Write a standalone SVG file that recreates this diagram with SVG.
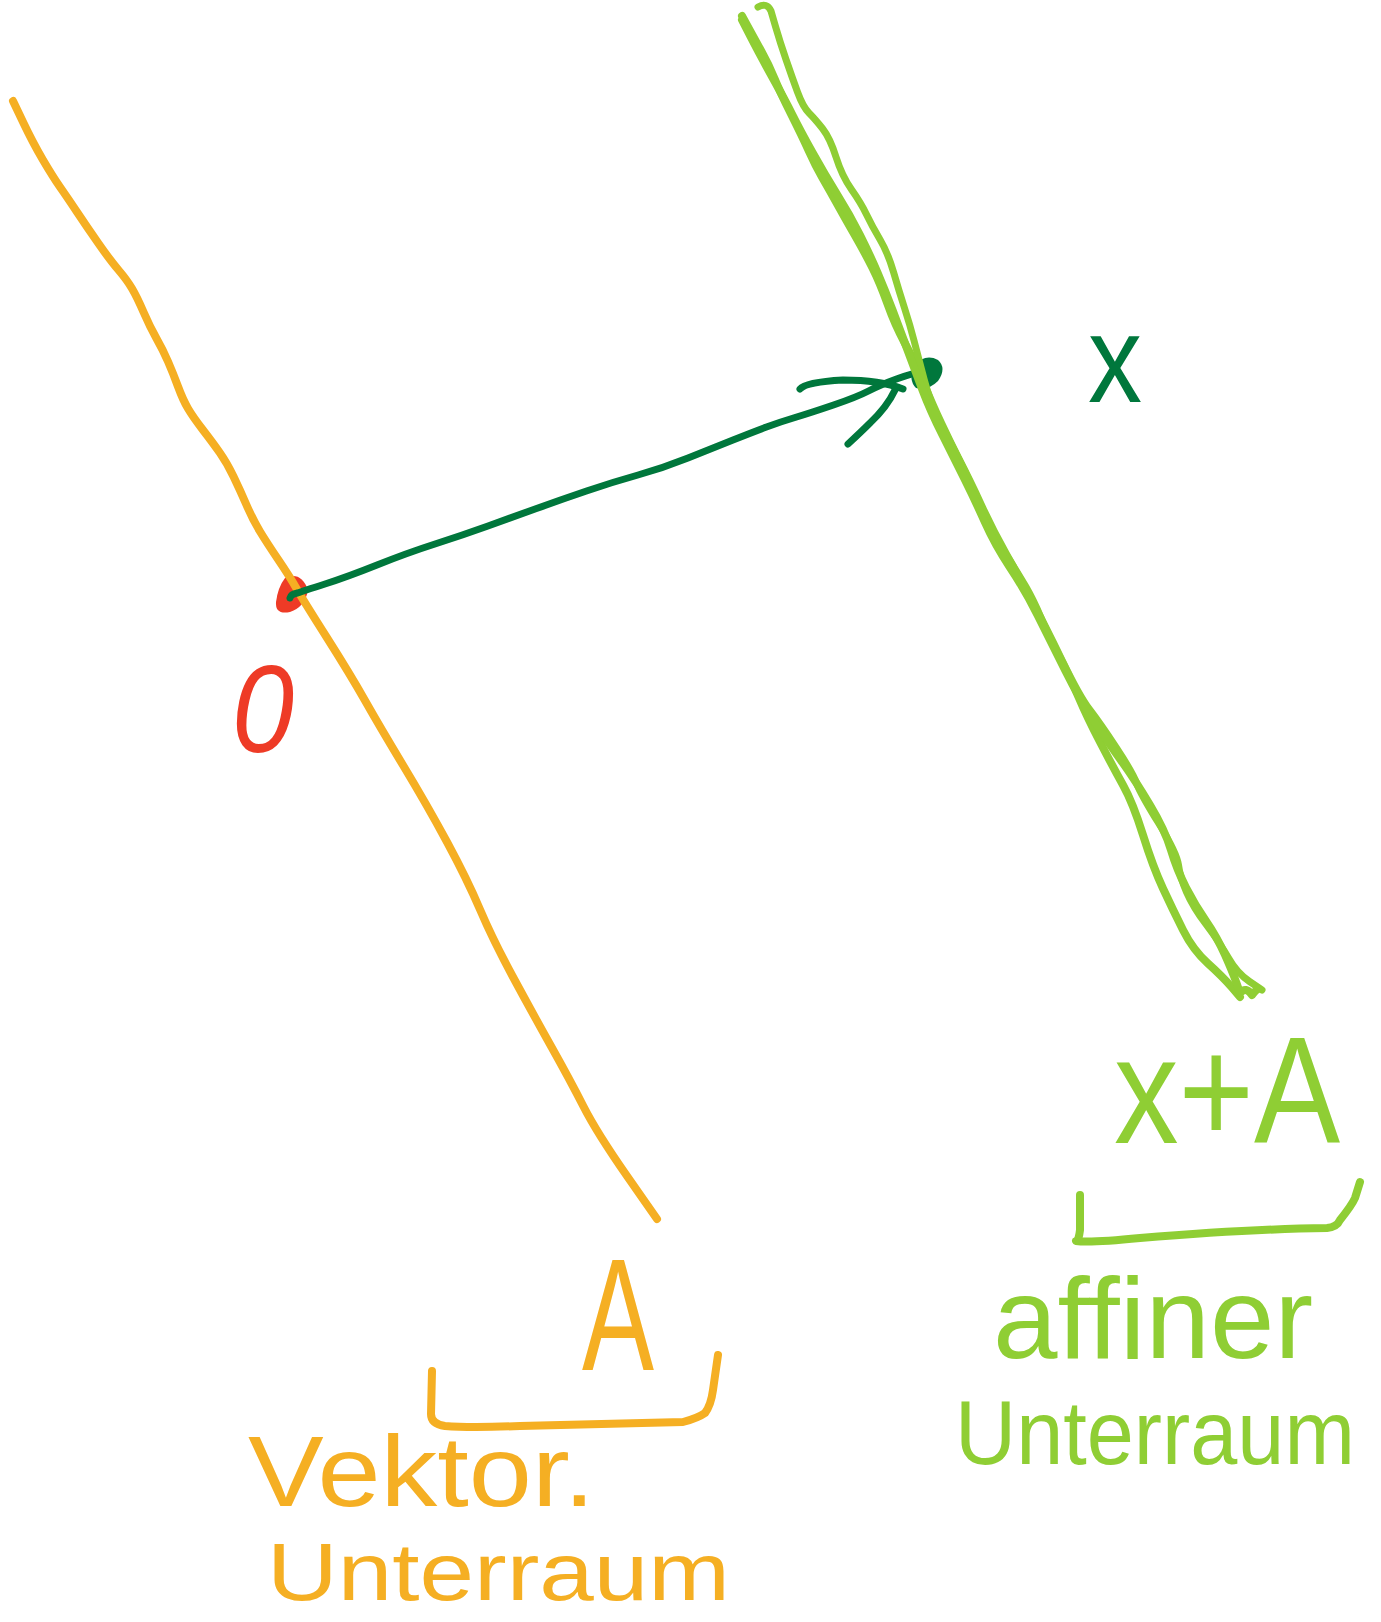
<svg xmlns="http://www.w3.org/2000/svg" width="1381" height="1622" viewBox="0 0 1381 1622">
<style>
.ln{fill:none;stroke-linecap:round;stroke-linejoin:round}
.or{stroke:#F5AF23}
.lg{stroke:#8FCE34}
.dg{stroke:#00773C}
.t{font-family:"Liberation Sans",Arial,sans-serif}
.tor{fill:#F5AF23}
.tlg{fill:#8FCE34}
.tdg{fill:#00773C}
.tred{fill:#EE3B26}
</style>
<rect width="1381" height="1622" fill="#ffffff"/>

<g id="node-origin">
<path d="M285,578 Q301,571 308,590 Q305,607 290,612 Q275,615 276,602 Q278,587 285,578 Z" fill="#EE3B26"/>
<text class="t tred" x="232" y="752" font-size="125" font-style="italic" textLength="62" lengthAdjust="spacingAndGlyphs">0</text>
</g>

<g id="node-vector-subspace">
<path class="ln or" stroke-width="8" d="M13,101 L23,122 Q33,143 43,160 Q53,177 60,187 Q67,197 77,212 Q87,227 98.5,243.5 Q110,260 118.5,270 Q127,280 132,288.5 Q137,297 143.5,312 Q150,327 156.5,338.5 Q163,350 168,361.5 Q173,373 178,386.5 Q183,400 188,408.5 Q193,417 203,430 Q213,443 220,453 Q227,463 233.5,476.5 Q240,490 246.5,505 Q253,520 260,531.5 Q267,543 278.5,560 Q290,577 296.5,588.5 Q303,600 326.5,637 Q350,674 365,700.5 Q380,727 403.5,766 Q427,805 447,842 Q467,879 480,909.5 Q493,940 513,977 Q533,1014 551.5,1047 Q570,1080 583.5,1106.5 Q597,1133 627,1176 L657,1219"/>
<text class="t tor" x="582" y="1370" font-size="160" textLength="72" lengthAdjust="spacingAndGlyphs">A</text>
<path class="ln or" stroke-width="8" d="M432,1371 L431,1414 Q431,1424 445,1426 Q470,1428 520,1426 Q600,1424 683,1422 Q698,1418 705,1413 Q711,1405 713,1390 L718,1355"/>
<text class="t tor" x="248" y="1506" font-size="100" textLength="347" lengthAdjust="spacingAndGlyphs">Vektor.</text>
<text class="t tor" x="267" y="1600" font-size="82" textLength="463" lengthAdjust="spacingAndGlyphs">Unterraum</text>
</g>

<g id="connectors">
<path class="ln dg" stroke-width="7" d="M290,598 Q291,594 297.5,593 Q303,591 325,584 Q347,577 377,565 Q407,553 435,544 Q463,535 488,526 Q513,517 536.5,508.5 Q560,500 586.5,491 Q613,482 638,475 Q663,468 688,458 Q713,448 733,440 Q753,432 766.5,427 Q780,422 795,417.5 Q810,413 833.5,405 Q857,397 868.5,391 Q880,385 896.5,379 Q913,373 920,372.5 L927,372"/>
<path class="ln dg" stroke-width="7" d="M800,389 Q806,382 843,380 Q880,380 903,389"/>
<path class="ln dg" stroke-width="7" d="M848,444 Q862,431 870,423 Q887,407 895,390"/>
<path d="M914,366 Q925,353 938,360 Q947,368 938,381 Q928,391 916,388 Q908,380 914,366 Z" fill="#00773C"/>
</g>

<g id="node-x">
<text class="t tdg" x="1088" y="402" font-size="125" textLength="54" lengthAdjust="spacingAndGlyphs">x</text>
</g>

<g id="node-affine-subspace">
<path class="ln lg" stroke-width="8" d="M742,16 L748,27 Q754,38 761.5,51.5 Q769,65 774.5,78.5 Q780,92 791.5,115 Q803,138 809,151.5 Q815,165 822.5,178 Q830,191 837.5,204.5 Q845,218 855,235.5 Q865,253 872.5,268 Q880,283 887.5,304 Q895,325 904.5,342.5 Q914,360 923.5,383 Q933,406 941,423 Q949,440 958.5,459 Q968,478 979.5,505 Q991,532 1004.5,553 Q1018,574 1025.5,587 Q1033,600 1040,616.5 Q1047,633 1058.5,655 Q1070,677 1078.5,697 Q1087,717 1100,742 Q1113,767 1123,785 Q1133,803 1143,835 Q1153,867 1163,888.5 Q1173,910 1183,930 Q1193,950 1208,963.5 Q1223,977 1231.5,987 L1240,997"/>
<path class="ln lg" stroke-width="7" d="M758,7 Q767,2 771,11 L775.5,26.5 Q780,42 786,59.5 Q792,77 797.5,92 Q803,107 809,113 Q815,119 822.5,128.5 Q830,138 836,157 Q842,176 851.5,189.5 Q861,203 866.5,214.5 Q872,226 880,239.5 Q888,253 893.5,272 Q899,291 904.5,308 Q910,325 914,340.5 Q918,356 924,379 Q930,402 939.5,421 Q949,440 959.5,460 Q970,480 981.5,505 Q993,530 1006.5,554 Q1020,578 1032.5,601.5 Q1045,625 1062.5,661 Q1080,697 1090,710 Q1100,723 1116.5,748 Q1133,773 1136.5,783 Q1140,793 1158.5,823 Q1177,853 1178.5,865 Q1180,877 1186.5,892 Q1193,907 1206.5,925 Q1220,943 1228.5,958 Q1237,973 1249.5,981.5 L1262,990"/>
<path class="ln lg" stroke-width="8" d="M742,20 L751,37.5 Q760,55 772.5,77.5 Q785,100 792.5,115 Q800,130 812.5,152.5 Q825,175 837.5,195 Q850,215 860,235 Q870,255 877.5,272.5 Q885,290 892.5,310 Q900,330 907.5,350 Q915,370 922.5,390 Q930,410 942.5,435 Q955,460 965,480 Q975,500 985,522.5 Q995,545 1010,567.5 Q1025,590 1037.5,615 Q1050,640 1065,670 Q1080,700 1095,722.5 Q1110,745 1122.5,762.5 Q1135,780 1150,805 Q1165,830 1171,850 Q1177,870 1186,887.5 Q1195,905 1206,921 Q1217,937 1225,955 Q1233,973 1236.5,983 L1240,993 Q1246,986 1252,995 Q1256,990 1258,989"/>
<text class="t tlg" x="1114" y="1143" font-size="152" textLength="226" lengthAdjust="spacingAndGlyphs">x+A</text>
<path class="ln lg" stroke-width="8" d="M1080,1195 L1080,1230 Q1079,1240 1076,1241 Q1090,1243 1140,1238 Q1250,1229 1327,1228 Q1337,1227 1340,1220 Q1352,1205 1355,1198 L1360,1182"/>
<text class="t tlg" x="993" y="1358" font-size="115" textLength="320" lengthAdjust="spacingAndGlyphs">affiner</text>
<text class="t tlg" x="955" y="1464" font-size="90" textLength="400" lengthAdjust="spacingAndGlyphs">Unterraum</text>
</g>
</svg>
